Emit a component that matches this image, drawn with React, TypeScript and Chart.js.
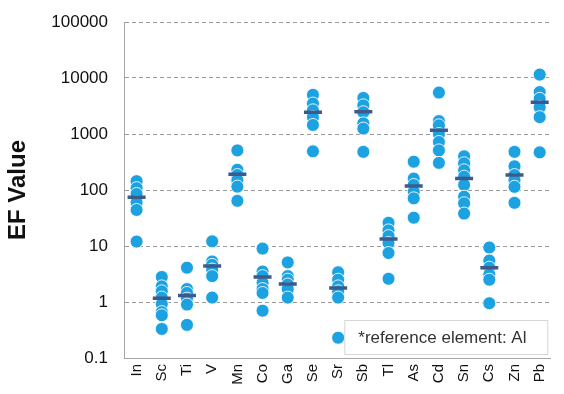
import { useEffect, useRef } from "react";
import { Chart, registerables } from "chart.js";

Chart.register(...registerables);

// Elements along the x axis
const elements = ["In", "Sc", "Ti", "V", "Mn", "Co", "Ga", "Se", "Sr", "Sb", "Tl", "As", "Cd", "Sn", "Cs", "Zn", "Pb"];

// Enrichment factors measured for each element
const efIn = [144, 108, 85, 60, 44, 12];
const efSc = [2.8, 1.9, 1.55, 1.2, 0.92, 0.66, 0.58, 0.33];
const efTi = [4.1, 1.7, 1.45, 1.15, 0.9, 0.39];
const efV = [12.1, 5.3, 4.6, 3.8, 2.9, 1.2];
const efMn = [510, 230, 185, 150, 115, 64];
const efCo = [9.0, 3.5, 2.9, 2.2, 1.7, 1.45, 0.7];
const efGa = [5.1, 2.9, 2.5, 2.05, 1.7, 1.2];
const efSe = [5000, 3500, 2650, 2000, 1450, 490];
const efSr = [3.4, 2.5, 1.9, 1.55, 1.2, 0.23];
const efSb = [4400, 3250, 2450, 1550, 1250, 480];
const efTl = [26, 19, 15, 11.3, 7.5, 2.6];
const efAs = [320, 160, 123, 93, 71, 32];
const efCd = [5500, 1700, 1430, 1000, 720, 510, 305];
const efSn = [400, 300, 225, 173, 123, 76, 58, 38];
const efCs = [9.4, 5.5, 4.1, 3.1, 2.5, 0.95];
const efZn = [480, 265, 185, 150, 114, 59];
const efPb = [11500, 5600, 4250, 3000, 2000, 470];

// Median enrichment factor per element
const medianEF = [74, 1.17, 1.3, 4.4, 192, 2.8, 2.1, 2450, 1.77, 2500, 13.3, 118, 1170, 160, 4.1, 185, 3700];

// Decade ticks of the log axis
const yTicks = [0.1, 1, 10, 100, 1000, 10000, 100000];

const noteText = "*reference element: Al";

const efByElement = [efIn, efSc, efTi, efV, efMn, efCo, efGa, efSe, efSr, efSb, efTl, efAs, efCd, efSn, efCs, efZn, efPb];

const FONT = "'Liberation Sans', Arial, sans-serif";

const notePlugin = {
  id: "refNote",
  afterDraw(chart: any) {
    const { ctx, chartArea } = chart;
    const w = 204;
    const h = 35;
    const x = chartArea.right - 2 - w;
    const y = chartArea.bottom - 3 - h;
    ctx.save();
    ctx.fillStyle = "#ffffff";
    ctx.fillRect(x, y, w, h);
    ctx.strokeStyle = "#d6d6d6";
    ctx.lineWidth = 1;
    ctx.strokeRect(x + 0.5, y + 0.5, w - 1, h - 1);
    ctx.font = `17px ${FONT}`;
    ctx.fillStyle = "#333333";
    ctx.textBaseline = "middle";
    ctx.fillText(noteText, x + 14, y + h / 2 + 1);
    ctx.restore();
  },
};

export default function App() {
  const canvasRef = useRef<HTMLCanvasElement | null>(null);

  useEffect(() => {
    if (!canvasRef.current) return;
    const points = efByElement.flatMap((vals, i) => vals.map((v) => ({ x: i, y: v })));
    const medians = medianEF.map((v, i) => ({ x: i, y: v }));

    const chart = new Chart(canvasRef.current, {
      type: "scatter",
      data: {
        datasets: [
          {
            label: "median",
            data: medians,
            order: 0,
            pointStyle: "line",
            pointRadius: 9,
            pointBorderWidth: 3.5,
            pointBorderColor: "#3D5A8C",
            pointBackgroundColor: "#3D5A8C",
          },
          {
            label: "EF",
            data: points,
            order: 1,
            pointStyle: "circle",
            pointRadius: 6.5,
            pointBorderWidth: 1,
            pointBorderColor: "rgba(255,255,255,0.85)",
            pointBackgroundColor: "#1CA1E1",
          },
        ],
      },
      options: {
        animation: false,
        responsive: true,
        maintainAspectRatio: false,
        events: [],
        layout: { padding: { top: 22, right: 0, left: 0, bottom: 0 } },
        plugins: {
          legend: { display: false },
          tooltip: { enabled: false },
        },
        scales: {
          x: {
            type: "linear",
            min: -0.5,
            max: 16.42,
            afterBuildTicks: (scale: any) => {
              scale.ticks = elements.map((_, i) => ({ value: i }));
            },
            afterFit: (scale: any) => {
              scale.height = 36;
            },
            grid: { display: false, drawTicks: false },
            border: { display: true, color: "#a6a6a6", width: 1 },
            ticks: {
              autoSkip: false,
              minRotation: 90,
              maxRotation: 90,
              padding: 6,
              color: "#111111",
              font: { family: FONT, size: 15 },
              callback: (v: any) => elements[v as number] ?? "",
            },
          },
          y: {
            type: "logarithmic",
            min: 0.1,
            max: 100000,
            afterBuildTicks: (scale: any) => {
              scale.ticks = yTicks.map((v) => ({ value: v }));
            },
            afterFit: (scale: any) => {
              scale.width = 124;
            },
            grid: {
              color: "#9a9a9a",
              lineWidth: 1,
              drawTicks: true,
              tickLength: 14,
              tickColor: "rgba(0,0,0,0)",
            },
            border: { display: true, color: "#a6a6a6", width: 1, dash: [4, 3] },
            ticks: {
              padding: 2,
              color: "#111111",
              font: { family: FONT, size: 17 },
              callback: (v: any) => String(v),
            },
            title: {
              display: true,
              text: "EF Value",
              color: "#111111",
              padding: { top: 4, bottom: 0 },
              font: { family: FONT, size: 24, weight: "bold" },
            },
          },
        },
      },
      plugins: [notePlugin],
    });

    return () => chart.destroy();
  }, []);

  return (
    <div style={{ position: "absolute", left: 0, top: 0, width: 564, height: 394 }}>
      <canvas ref={canvasRef} />
    </div>
  );
}
